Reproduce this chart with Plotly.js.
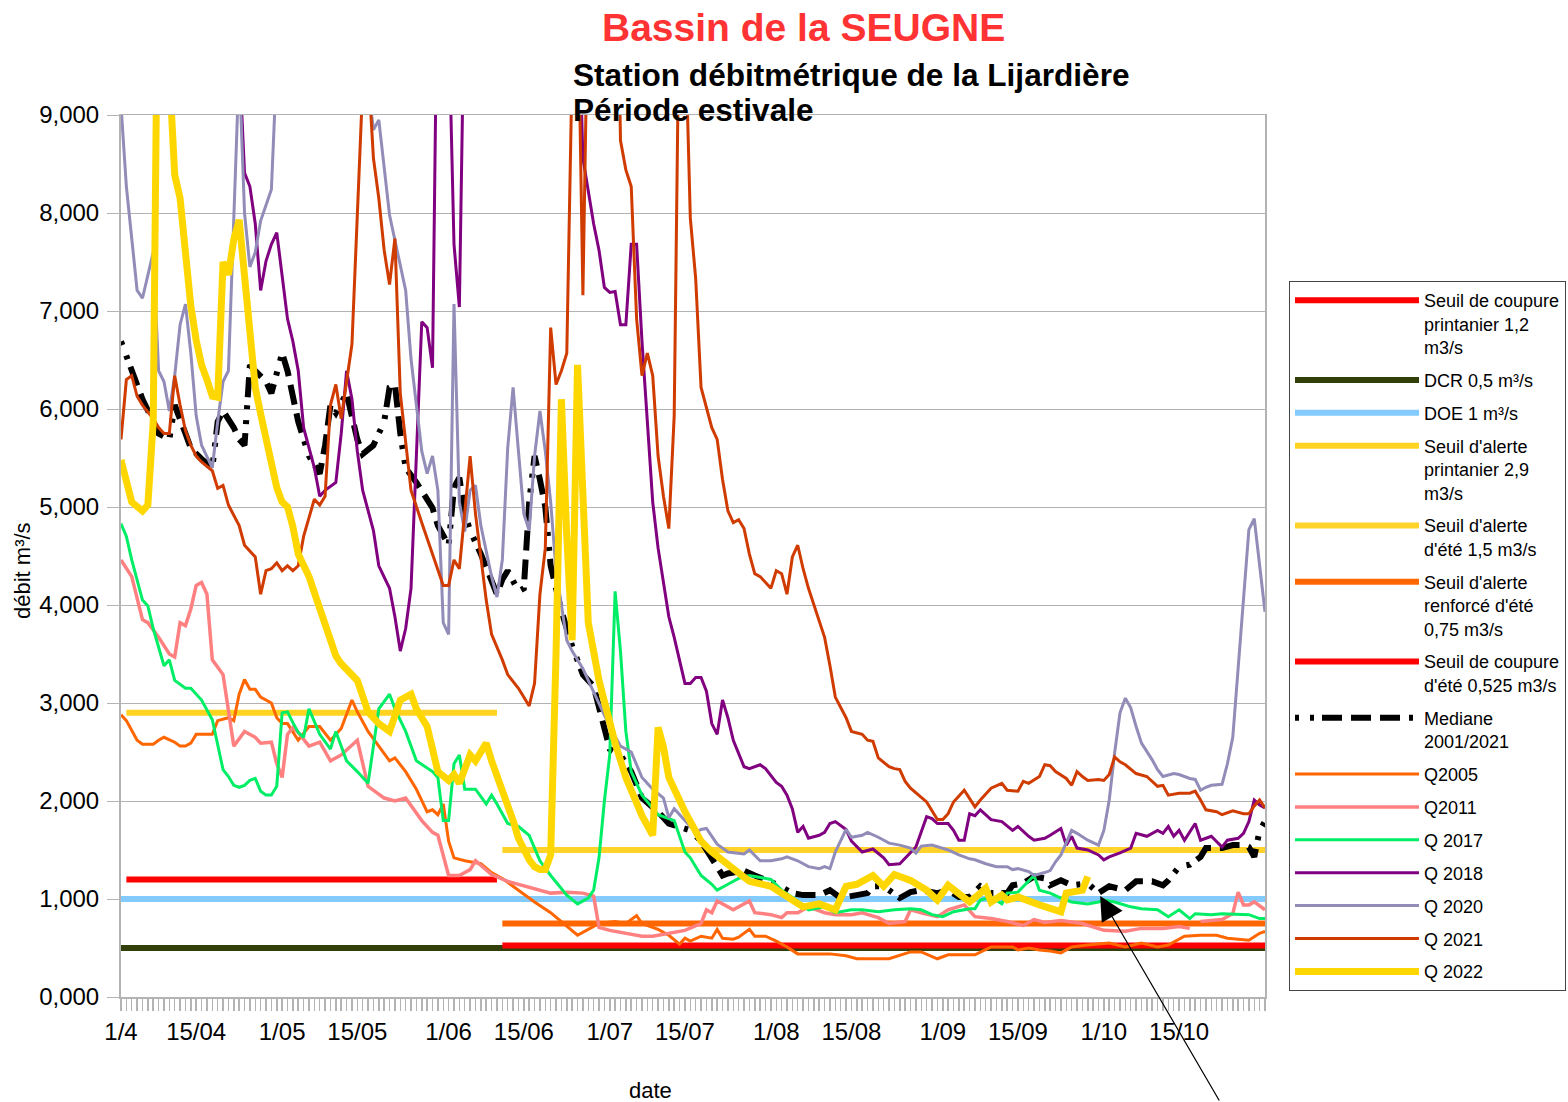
<!DOCTYPE html>
<html><head><meta charset="utf-8">
<script src="https://cdn.plot.ly/plotly-3.0.1.min.js"></script>
<style>html,body{margin:0;padding:0;background:#fff}#chart{width:1568px;height:1102px}</style>
</head><body><div id="chart"></div>
<script>
// x = day of season (0 = 1 April)
const tickDays = [0,14,30,44,61,75,91,105,122,136,153,167,183,197];
const tickLabels = ["1/4","15/04","1/05","15/05","1/06","15/06","1/07","15/07","1/08","15/08","1/09","15/09","1/10","15/10"];
const springPeriod = [1, 70];
const summerPeriod = [71, 213];
const fullPeriod = [0, 213];

const seuilCoupurePrintanier = 1.2;
const dcr = 0.5;
const doe = 1.0;
const seuilAlertePrintanier = 2.9;
const seuilAlerteEte = 1.5;
const seuilAlerteRenforceEte = 0.75;
const seuilCoupureEte = 0.525;

const mediane = [[0,6.69],[2,6.39],[4,6.10],[6,5.87],[7,5.75],[9,5.69],[10,6.04],[12,5.75],[13,5.60],[15,5.49],[17,5.40],[18,5.87],[19,5.98],[21,5.81],[22,5.69],[23,5.63],[24,6.45],[25,6.39],[27,6.28],[28,6.16],[30,6.57],[31,6.39],[33,5.87],[35,5.52],[37,5.34],[38,5.63],[39,6.04],[40,5.96],[42,6.16],[44,5.69],[45,5.54],[47,5.63],[49,5.87],[50,6.22],[51,6.25],[52,5.75],[53,5.40],[55,5.25],[56,5.17],[58,4.99],[59,4.81],[61,4.61],[62,5.2],[63,5.3],[64,4.93],[65,4.76],[67,4.52],[69,4.23],[70,4.11],[71,4.26],[72,4.35],[74,4.14],[75,4.17],[76,5.05],[77,5.52],[78,5.28],[79,5.0],[80,4.4],[82,3.94],[84,3.58],[86,3.29],[88,3.17],[90,2.76],[91,2.53],[93,2.47],[95,2.30],[97,2.03],[100,1.89],[102,1.77],[104,1.74],[106,1.70],[108,1.59],[110,1.40],[112,1.24],[113,1.26],[116,1.29],[118,1.24],[122,1.15],[125,1.06],[127,1.04],[130,1.04],[132,1.09],[134,1.01],[137,1.04],[139,1.06],[140,1.13],[142,1.13],[145,1.01],[147,1.07],[149,1.09],[152,1.06],[154,1.09],[156,1.02],[158,1.02],[160,1.13],[162,1.06],[165,1.06],[166,1.14],[168,1.16],[170,1.23],[172,1.21],[173,1.14],[175,1.19],[177,1.14],[180,1.16],[182,1.06],[184,1.13],[187,1.09],[189,1.18],[192,1.18],[194,1.14],[195,1.19],[197,1.33],[199,1.35],[201,1.43],[202,1.52],[205,1.52],[207,1.55],[209,1.55],[210,1.53],[211,1.43],[212,1.70],[213,1.79]];

const q2005 = [[0,2.88],[1,2.82],[3,2.62],[4,2.58],[6,2.58],[7,2.62],[8,2.65],[10,2.60],[11,2.56],[12,2.56],[13,2.59],[14,2.68],[16,2.68],[17,2.68],[18,2.82],[20,2.85],[21,2.82],[22,3.09],[23,3.24],[24,3.14],[25,3.14],[26,3.06],[28,3.0],[29,2.85],[30,2.79],[31,2.79],[33,2.62],[35,2.76],[37,2.76],[39,2.62],[41,2.74],[43,3.03],[44,2.91],[46,2.71],[48,2.56],[50,2.41],[51,2.44],[53,2.30],[55,2.12],[57,1.89],[58,1.91],[59,1.86],[60,1.97],[61,1.59],[62,1.42],[64,1.39],[67,1.36],[69,1.27],[71,1.21],[74,1.09],[77,0.97],[80,0.86],[82,0.77],[85,0.63],[87,0.69],[89,0.75],[92,0.77],[94,0.75],[96,0.83],[97,0.75],[100,0.69],[102,0.63],[104,0.54],[105,0.60],[106,0.57],[108,0.62],[110,0.60],[111,0.69],[112,0.60],[114,0.59],[115,0.61],[117,0.69],[118,0.62],[120,0.62],[122,0.57],[124,0.51],[126,0.44],[128,0.44],[132,0.44],[135,0.42],[137,0.39],[141,0.39],[143,0.39],[147,0.46],[149,0.46],[152,0.39],[154,0.43],[157,0.43],[159,0.43],[162,0.51],[166,0.51],[167,0.48],[169,0.50],[171,0.48],[173,0.47],[175,0.45],[177,0.51],[180,0.53],[184,0.55],[187,0.51],[190,0.55],[193,0.51],[195,0.53],[198,0.62],[201,0.63],[204,0.63],[206,0.60],[210,0.58],[212,0.65],[213,0.67]];

const q2011 = [[0,4.46],[2,4.29],[4,3.85],[5,3.82],[7,3.67],[9,3.50],[10,3.47],[11,3.82],[12,3.79],[13,3.96],[14,4.20],[15,4.23],[16,4.11],[17,3.44],[19,3.29],[21,2.56],[23,2.71],[25,2.65],[26,2.59],[28,2.60],[29,2.38],[30,2.24],[31,2.68],[32,2.75],[33,2.70],[35,2.56],[37,2.60],[39,2.41],[41,2.47],[44,2.62],[46,2.15],[49,2.03],[51,2.00],[53,2.03],[56,1.80],[58,1.68],[59,1.65],[61,1.24],[63,1.24],[65,1.30],[66,1.39],[69,1.25],[72,1.18],[74,1.15],[78,1.09],[80,1.06],[83,1.07],[86,1.06],[88,1.03],[89,0.71],[91,0.68],[94,0.65],[97,0.62],[99,0.62],[102,0.65],[105,0.68],[108,0.75],[109,0.89],[110,0.86],[111,0.98],[114,0.89],[117,0.98],[118,0.86],[121,0.84],[123,0.81],[124,0.86],[126,0.86],[128,0.92],[131,0.86],[133,0.84],[136,0.84],[138,0.86],[141,0.81],[143,0.75],[146,0.77],[147,0.89],[149,0.86],[152,0.82],[154,0.89],[157,0.94],[159,0.82],[162,0.80],[165,0.77],[168,0.73],[170,0.79],[172,0.76],[175,0.78],[179,0.75],[183,0.68],[187,0.67],[190,0.70],[194,0.70],[197,0.72],[199,0.70],[200,null],[201,0.77],[205,0.79],[207,0.85],[208,1.07],[209,0.94],[210,0.94],[211,0.97],[213,0.89]];

const q2017 = [[0,4.83],[1,4.70],[2,4.46],[4,4.05],[5,3.99],[6,3.76],[8,3.38],[9,3.44],[10,3.23],[12,3.15],[13,3.15],[15,3.03],[17,2.83],[18,2.57],[19,2.32],[20,2.25],[21,2.16],[22,2.14],[23,2.16],[24,2.21],[25,2.23],[26,2.10],[27,2.06],[28,2.06],[29,2.15],[30,2.90],[31,2.91],[32,2.80],[33,2.70],[34,2.65],[35,2.94],[37,2.68],[39,2.53],[40,2.71],[42,2.41],[44,2.30],[46,2.18],[48,2.94],[50,3.09],[51,2.94],[53,2.71],[55,2.41],[58,2.30],[59,2.24],[60,1.80],[61,1.80],[62,2.38],[63,2.47],[64,2.12],[66,2.12],[68,1.97],[69,2.06],[70,1.97],[72,1.77],[74,1.74],[76,1.65],[78,1.39],[80,1.24],[83,1.04],[85,0.95],[87,1.01],[88,1.09],[89,1.42],[90,2.0],[91,2.47],[92,4.14],[93,3.53],[94,2.71],[95,2.30],[97,2.06],[100,1.86],[103,1.80],[105,1.48],[106,1.42],[108,1.24],[110,1.15],[111,1.09],[113,1.15],[115,1.21],[117,1.24],[118,1.23],[121,1.20],[123,1.09],[126,0.98],[128,0.89],[131,0.92],[133,0.86],[136,0.89],[138,0.89],[141,0.87],[144,0.89],[147,0.90],[149,0.89],[151,0.84],[153,0.82],[155,0.87],[158,0.90],[159,0.90],[160,0.99],[162,1.02],[164,0.95],[165,1.06],[167,1.07],[170,1.24],[171,1.09],[173,1.06],[175,1.01],[177,0.97],[180,0.95],[182,0.97],[183,0.99],[185,0.97],[188,0.92],[190,0.90],[193,0.89],[195,0.82],[197,0.89],[199,0.80],[200,0.85],[203,0.84],[205,0.85],[208,0.84],[210,0.84],[212,0.80],[213,0.80]];

const q2018 = [[20,10.5],[22,9.6],[23,8.41],[24,8.27],[25,7.89],[26,7.21],[27,7.51],[28,7.68],[29,7.80],[31,6.92],[32,6.69],[33,6.39],[34,5.81],[36,5.40],[37,5.11],[38,5.17],[40,5.25],[41,5.75],[42,6.39],[43,6.10],[44,5.57],[45,5.17],[47,4.76],[48,4.40],[50,4.17],[51,3.88],[52,3.53],[53,3.76],[54,4.17],[55,5.52],[56,6.89],[57,6.83],[58,6.42],[59,11],[60,12],[61,10],[62,7.68],[63,7.04],[64,10.5],[75,12],[85,10.5],[86,8.56],[88,7.89],[89,7.62],[90,7.24],[91,7.19],[92,7.2],[93,6.86],[94,6.86],[95,7.68],[96,7.68],[97,6.69],[98,5.87],[99,5.05],[100,4.58],[102,3.88],[103,3.67],[105,3.20],[106,3.20],[107,3.26],[108,3.26],[109,3.12],[110,2.79],[111,2.68],[112,3.03],[113,2.85],[114,2.62],[116,2.35],[117,2.33],[118,2.35],[119,2.37],[120,2.33],[122,2.19],[123,2.15],[124,2.06],[125,1.92],[126,1.68],[127,1.74],[128,1.62],[130,1.65],[131,1.68],[132,1.77],[133,1.79],[135,1.71],[136,1.59],[138,1.48],[140,1.51],[142,1.42],[143,1.35],[145,1.36],[147,1.47],[148,1.53],[150,1.84],[151,1.82],[152,1.77],[154,1.77],[155,1.70],[156,1.60],[157,1.60],[158,1.87],[159,1.85],[160,1.91],[162,1.81],[164,1.79],[166,1.70],[167,1.74],[169,1.64],[170,1.60],[172,1.62],[173,1.65],[175,1.72],[176,1.55],[177,1.64],[178,1.52],[180,1.50],[182,1.45],[183,1.40],[184,1.43],[186,1.47],[188,1.52],[189,1.67],[191,1.64],[193,1.70],[194,1.67],[195,1.74],[196,1.64],[197,1.70],[198,1.60],[200,1.77],[201,1.60],[203,1.64],[205,1.53],[206,1.60],[208,1.62],[209,1.67],[210,1.79],[211,2.01],[212,1.96],[213,1.93]];

const q2020 = [[0,9.1],[1,8.27],[2,7.74],[3,7.21],[4,7.13],[5,7.35],[6,7.6],[7,6.39],[8,6.28],[9,5.98],[10,6.34],[11,6.86],[12,7.07],[13,6.57],[14,5.93],[15,5.63],[17,5.40],[18,5.87],[19,6.28],[20,6.39],[21,7.98],[22,9.5],[23,8.0],[24,7.45],[25,7.6],[26,7.92],[28,8.24],[29,9.3],[30,10.8],[45,10.5],[46,9.3],[47,8.85],[48,8.95],[50,7.98],[53,7.21],[54,6.51],[56,5.57],[57,5.34],[58,5.52],[59,5.17],[60,3.82],[61,3.70],[62,7.07],[63,5.05],[64,4.75],[65,5.17],[66,5.22],[67,4.81],[69,4.29],[70,4.08],[71,4.46],[72,5.6],[73,6.22],[74,5.57],[75,4.93],[76,4.76],[77,5.52],[78,5.98],[79,5.57],[80,5.05],[81,4.35],[82,4.0],[83,3.64],[84,3.53],[86,3.35],[87,3.23],[89,3.0],[91,2.76],[93,2.56],[95,2.50],[97,2.24],[99,2.12],[101,2.03],[102,1.83],[103,1.92],[105,1.80],[107,1.68],[108,1.71],[109,1.72],[111,1.56],[113,1.48],[116,1.46],[117,1.50],[119,1.39],[121,1.39],[123,1.41],[124,1.43],[126,1.39],[128,1.33],[130,1.31],[131,1.33],[132,1.31],[133,1.48],[135,1.71],[136,1.63],[138,1.65],[139,1.68],[141,1.63],[143,1.57],[145,1.55],[147,1.52],[148,1.47],[149,1.54],[151,1.55],[154,1.50],[156,1.45],[158,1.41],[159,1.40],[161,1.36],[163,1.33],[165,1.33],[166,1.30],[167,1.31],[169,1.28],[170,1.24],[172,1.27],[173,1.29],[174,1.38],[175,1.45],[177,1.70],[178,1.67],[180,1.60],[182,1.55],[183,1.70],[184,2.01],[185,2.49],[186,2.90],[187,3.05],[188,2.95],[189,2.76],[190,2.59],[192,2.42],[193,2.32],[194,2.25],[196,2.28],[197,2.27],[199,2.23],[200,2.22],[201,2.11],[202,2.14],[203,2.16],[205,2.17],[206,2.38],[207,2.65],[208,3.37],[209,4.05],[210,4.77],[211,4.88],[212,4.4],[213,3.93]];

const q2021 = [[0,5.69],[1,6.30],[2,6.34],[3,6.13],[4,6.04],[6,5.90],[7,5.81],[8,5.75],[9,5.75],[10,6.34],[11,6.04],[12,5.78],[13,5.63],[14,5.52],[15,5.46],[17,5.37],[18,5.19],[19,5.22],[20,5.02],[22,4.81],[23,4.61],[25,4.49],[26,4.11],[27,4.35],[28,4.37],[29,4.43],[30,4.35],[31,4.40],[32,4.35],[33,4.40],[34,4.70],[36,5.08],[37,5.02],[38,5.11],[39,6.04],[40,6.25],[41,5.90],[42,6.28],[43,6.66],[44,7.98],[45,9.3],[46,9.5],[47,8.56],[48,8.15],[49,7.62],[50,7.27],[51,7.74],[52,6.16],[53,5.69],[54,5.17],[56,4.84],[58,4.52],[60,4.20],[61,4.20],[62,4.46],[63,4.37],[64,4.93],[65,5.52],[66,4.93],[67,4.46],[68,4.05],[69,3.70],[71,3.44],[72,3.29],[74,3.15],[76,2.97],[77,3.20],[78,4.11],[79,4.58],[80,6.83],[81,6.25],[82,6.39],[83,6.57],[84,9.5],[85,10.5],[86,7.16],[87,10.5],[92,12],[93,8.74],[94,8.44],[95,8.27],[96,6.92],[97,6.34],[98,6.57],[99,6.34],[100,5.52],[101,5.11],[102,4.78],[103,5.93],[104,10.5],[105,10],[106,7.95],[107,7.33],[108,6.22],[110,5.81],[111,5.69],[112,5.28],[113,4.96],[114,4.84],[115,4.87],[116,4.78],[117,4.52],[118,4.32],[119,4.29],[121,4.17],[122,4.35],[123,4.32],[124,4.11],[125,4.49],[126,4.61],[127,4.37],[128,4.17],[130,3.85],[131,3.67],[132,3.38],[133,3.06],[135,2.85],[136,2.71],[138,2.68],[139,2.62],[140,2.61],[141,2.44],[143,2.35],[144,2.33],[145,2.32],[146,2.20],[147,2.13],[149,2.03],[150,1.99],[152,1.81],[153,1.81],[154,1.87],[155,1.99],[157,2.11],[159,1.94],[160,2.01],[162,2.13],[164,2.18],[165,2.11],[167,2.10],[168,2.20],[169,2.18],[171,2.25],[172,2.37],[173,2.36],[174,2.30],[176,2.23],[177,2.16],[178,2.30],[179,2.25],[180,2.21],[182,2.22],[183,2.21],[184,2.27],[185,2.45],[186,2.40],[187,2.37],[189,2.28],[191,2.25],[193,2.15],[194,2.16],[195,2.06],[197,2.08],[199,2.08],[200,2.10],[201,2.01],[202,1.91],[204,1.89],[205,1.86],[207,1.90],[209,1.87],[210,1.87],[211,1.95],[212,2.01],[213,1.93]];

const q2022 = [[0,5.48],[1,5.25],[2,5.05],[4,4.96],[5,5.02],[6,5.87],[7,11.5],[8,10.5],[9,9.3],[10,8.39],[11,8.15],[12,7.5],[13,7.05],[14,6.7],[15,6.45],[16,6.3],[17,6.13],[18,6.12],[19,7.5],[20,7.37],[21,7.73],[22,7.93],[23,7.3],[24,6.65],[25,6.22],[26,5.95],[27,5.7],[28,5.38],[29,5.2],[30,5.05],[31,5.0],[32,4.8],[33,4.52],[35,4.29],[37,3.95],[38,3.8],[39,3.6],[40,3.48],[41,3.4],[44,3.23],[46,2.91],[48,2.79],[50,2.71],[52,3.03],[54,3.09],[55,2.94],[57,2.76],[59,2.30],[61,2.21],[62,2.27],[63,2.18],[65,2.47],[66,2.41],[68,2.59],[69,2.41],[71,2.12],[72,1.95],[73,1.8],[74,1.62],[75,1.5],[76,1.4],[77,1.33],[78,1.30],[79,1.30],[80,1.45],[81,3.5],[82,6.10],[83,4.70],[84,3.64],[85,6.45],[87,3.82],[89,3.23],[90,3.0],[92,2.59],[94,2.24],[96,1.95],[97,1.85],[99,1.65],[100,2.75],[101,2.55],[102,2.24],[105,1.89],[106,1.80],[108,1.59],[110,1.48],[113,1.36],[117,1.18],[121,1.13],[125,0.98],[127,0.92],[130,0.95],[133,0.89],[135,1.13],[137,1.15],[140,1.24],[142,1.13],[144,1.25],[147,1.19],[150,1.09],[152,0.99],[154,1.14],[156,1.06],[158,0.97],[160,1.06],[161,1.11],[162,0.97],[164,1.04],[165,0.99],[167,1.02],[171,0.94],[173,0.90],[175,0.87],[176,1.06],[179,1.09],[180,1.23]];

const FONT = '"Liberation Sans", Arial, sans-serif';
let g = 0;
function level(name, period, value, color, width) {
  g += 1;
  return {type:'scatter', mode:'lines', name:name, legendgroup:'g'+g,
    x: period, y: period.map(() => value), line:{color:color, width:width}, hoverinfo:'name+y'};
}
function series(name, pairs, color, width, dash) {
  g += 1;
  return {type:'scatter', mode:'lines', name:name, legendgroup:'g'+g,
    x: pairs.map(p => p[0]), y: pairs.map(p => p[1]), connectgaps:false,
    line:{color:color, width:width, dash: dash || 'solid'}};
}

const traces = [
  level("Seuil de coupure<br>printanier 1,2<br>m3/s", springPeriod, seuilCoupurePrintanier, '#ff0000', 6),
  level("DCR 0,5 m³/s", fullPeriod, dcr, '#333f0a', 6),
  level("DOE 1 m³/s", fullPeriod, doe, '#83caff', 6),
  level("Seuil d'alerte<br>printanier 2,9<br>m3/s", springPeriod, seuilAlertePrintanier, '#ffd320', 6),
  level("Seuil d'alerte<br>d'été 1,5 m3/s", summerPeriod, seuilAlerteEte, '#ffd32a', 6),
  level("Seuil d'alerte<br>renforcé d'été<br>0,75 m3/s", summerPeriod, seuilAlerteRenforceEte, '#ff6600', 6),
  level("Seuil de coupure<br>d'été 0,525 m3/s", summerPeriod, seuilCoupureEte, '#ff0000', 6),
  series("Mediane<br>2001/2021", mediane, '#000000', 6, '4px,11px,4px,8px,20px,9px,20px,9px,20px,9px'),
  series("Q2005", q2005, '#ff6600', 3),
  series("Q2011", q2011, '#ff8080', 3.5),
  series("Q 2017", q2017, '#00ee66', 3),
  series("Q 2018", q2018, '#800080', 3),
  series("Q 2020", q2020, '#918cb8', 3),
  series("Q 2021", q2021, '#d03c00', 3),
  series("Q 2022", q2022, '#ffd700', 7)
];

const L = 121, R = 1265, T = 115, B = 997;
const px = v => (v - L) / (R - L);
const py = v => (B - v) / (B - T);

const layout = {
  width: 1568, height: 1102,
  margin: {l: L, r: 1568 - R, t: T, b: 1102 - B, autoexpand: false},
  paper_bgcolor: '#ffffff', plot_bgcolor: '#ffffff',
  separators: ', ',
  font: {family: FONT, color: '#000000'},
  showlegend: true,
  legend: {x: px(1289), y: py(281), xanchor: 'left', yanchor: 'top',
    bordercolor: '#444444', borderwidth: 1, bgcolor: '#ffffff',
    font: {family: FONT, size: 18, color: '#000000'}, valign: 'top',
    itemwidth: 124, traceorder: 'grouped', tracegroupgap: 6.5},
  xaxis: {range: [0, 213], tickmode: 'array', tickvals: tickDays, ticktext: tickLabels,
    ticks: 'outside', ticklen: 12, tickcolor: '#b3b3b3', tickwidth: 1.5,
    showline: true, linecolor: '#b3b3b3', linewidth: 1.5, mirror: true,
    showgrid: false, zeroline: false, tickfont: {family: FONT, size: 24, color: '#000'},
    ticklabelstandoff: 1,
    minor: {tick0: 0, dtick: 1, ticks: 'outside', ticklen: 12, tickcolor: '#b3b3b3', tickwidth: 1.5, showgrid: false}},
  yaxis: {range: [0, 9], dtick: 1, tick0: 0, tickformat: '.3f',
    ticks: 'outside', ticklen: 12, tickcolor: '#b3b3b3',
    showline: true, linecolor: '#b3b3b3', linewidth: 2, mirror: true,
    showgrid: true, gridcolor: '#b3b3b3', gridwidth: 1, zeroline: false,
    tickfont: {family: FONT, size: 24, color: '#000'}, ticklabelstandoff: 3},
  annotations: [
    {xref:'paper', yref:'paper', x: px(803), y: py(27), xanchor:'center', yanchor:'middle', showarrow:false,
      text:'<b>Bassin de la SEUGNE</b>', font:{family: FONT, size: 39, color:'#ff3333'}},
    {xref:'paper', yref:'paper', x: px(571), y: py(75), xanchor:'left', yanchor:'middle', showarrow:false,
      text:'<b>Station débitmétrique de la Lijardière</b>', font:{family: FONT, size: 31.6, color:'#000'}},
    {xref:'paper', yref:'paper', x: px(571), y: py(110), xanchor:'left', yanchor:'middle', showarrow:false,
      text:'<b>Période estivale</b>', font:{family: FONT, size: 31.6, color:'#000'}},
    {xref:'paper', yref:'paper', x: px(22), y: py(571), xanchor:'center', yanchor:'middle', showarrow:false,
      textangle: -90, text:'débit m³/s', font:{family: FONT, size: 22, color:'#000'}},
    {xref:'paper', yref:'paper', x: px(650), y: py(1090), xanchor:'center', yanchor:'middle', showarrow:false,
      text:'date', font:{family: FONT, size: 22, color:'#000'}},
    {xref:'x', yref:'y', x: 182.3, y: 1.03, ax: 120, ay: 207, text:'', showarrow:true,
      arrowhead: 2, arrowsize: 4, arrowwidth: 1.2, arrowcolor:'#000000', standoff: 0}
  ]
};

Plotly.newPlot('chart', traces, layout, {displayModeBar: false, staticPlot: true});
</script>
</body></html>
